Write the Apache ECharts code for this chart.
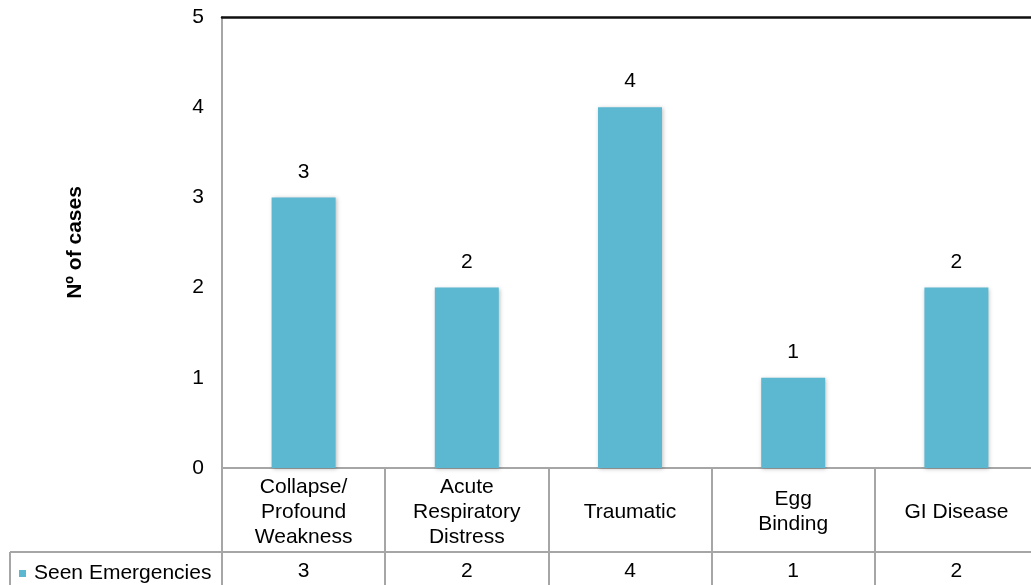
<!DOCTYPE html>
<html>
<head>
<meta charset="utf-8">
<script src="https://cdn.jsdelivr.net/npm/echarts@6/dist/echarts.min.js"></script>
<style>
  html, body { margin: 0; padding: 0; background: #fff; }
  #chart { width: 1031px; height: 585px; }
</style>
</head>
<body>
<div id="chart"></div>
<script>
// Emergency cases by type
const categories = ['Collapse/\nProfound\nWeakness', 'Acute\nRespiratory\nDistress', 'Traumatic', 'Egg\nBinding', 'GI Disease'];
const seenEmergencies = [3, 2, 4, 1, 2];
const yTicks = [0, 1, 2, 3, 4, 5];

const FONT = '"Liberation Sans", Arial, sans-serif';
const FS = 21;
const GRID_GRAY = '#a6a6a6';
const BAR_COLOR = '#5bb8d0';

const chart = echarts.init(document.getElementById('chart'), null, { renderer: 'canvas' });

chart.setOption({
  animation: false,
  textStyle: { fontFamily: FONT },
  grid: { left: 222, top: 17, width: 816, height: 451, containLabel: false, outerBoundsMode: 'none' },
  legend: {
    data: ['Seen Emergencies'],
    left: 14, top: 558,
    icon: 'rect', itemWidth: 7, itemHeight: 7, itemGap: 8,
    textStyle: { fontFamily: FONT, fontSize: FS, color: '#000', padding: [0, 0, 0, 3] }
  },
  xAxis: [
    {
      // category row of the data table
      type: 'category',
      data: categories,
      position: 'bottom',
      axisLine: { show: true, lineStyle: { color: GRID_GRAY, width: 2 } },
      axisTick: { show: true, length: 117, lineStyle: { color: GRID_GRAY, width: 2 } },
      axisLabel: {
        margin: 44, verticalAlign: 'middle', align: 'center',
        fontFamily: FONT, fontSize: FS, lineHeight: 25, color: '#000', interval: 0
      },
      splitLine: { show: false }
    },
    {
      // value row of the data table
      type: 'category',
      data: seenEmergencies.map(String),
      position: 'bottom',
      offset: 84,
      axisLine: { show: true, lineStyle: { color: GRID_GRAY, width: 2 } },
      axisTick: { show: false },
      axisLabel: {
        margin: 19, verticalAlign: 'middle', align: 'center',
        fontFamily: FONT, fontSize: FS, color: '#000', interval: 0
      },
      splitLine: { show: false }
    },
    {
      // top frame line of the plot area
      type: 'category',
      data: categories,
      position: 'top',
      axisLine: { show: true, lineStyle: { color: '#111', width: 2.5 } },
      axisTick: { show: false },
      axisLabel: { show: false },
      splitLine: { show: false }
    }
  ],
  yAxis: {
    type: 'value',
    min: yTicks[0],
    max: yTicks[yTicks.length - 1],
    interval: 1,
    name: 'Nº of cases',
    nameLocation: 'middle',
    nameGap: 136,
    nameRotate: 90,
    nameTextStyle: { fontFamily: FONT, fontSize: FS, fontWeight: 'bold', color: '#000' },
    axisLine: { show: true, lineStyle: { color: GRID_GRAY, width: 2 } },
    axisTick: { show: false },
    axisLabel: { margin: 18, padding: [7, 0, 0, 0], fontFamily: FONT, fontSize: FS, color: '#000' },
    splitLine: { show: false }
  },
  graphic: [
    // legend key cell of the data table
    { type: 'line', shape: { x1: 10, y1: 552, x2: 222, y2: 552 }, style: { stroke: GRID_GRAY, lineWidth: 2 }, silent: true },
    { type: 'line', shape: { x1: 10, y1: 552, x2: 10, y2: 585 }, style: { stroke: GRID_GRAY, lineWidth: 2 }, silent: true }
  ],
  series: [
    {
      name: 'Seen Emergencies',
      type: 'bar',
      xAxisIndex: 0,
      data: seenEmergencies,
      barWidth: 64,
      itemStyle: {
        color: BAR_COLOR,
        shadowBlur: 4,
        shadowColor: 'rgba(0,0,0,0.25)',
        shadowOffsetX: 1,
        shadowOffsetY: 1
      },
      label: {
        show: true, position: 'top', distance: 15,
        fontFamily: FONT, fontSize: FS, color: '#000'
      }
    }
  ]
});
</script>
</body>
</html>
